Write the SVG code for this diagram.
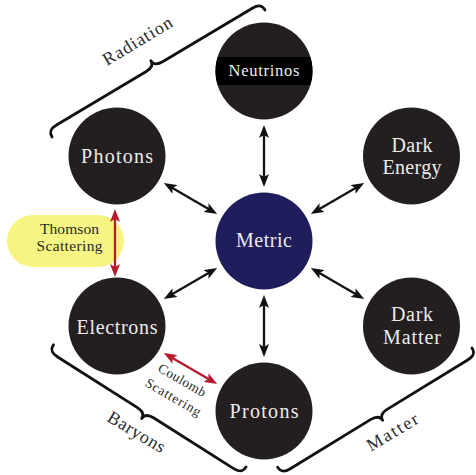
<svg xmlns="http://www.w3.org/2000/svg" width="476" height="475" viewBox="0 0 476 475">
<defs>
<style>
.node{fill:#231f20}
.lbl{font-family:"Liberation Serif","Times New Roman",serif;fill:#ececec;text-anchor:middle}
.out{font-family:"Liberation Serif","Times New Roman",serif;fill:#2a2a2a;text-anchor:middle}
.arr{stroke:#111;stroke-width:2.3;fill:none}
.red{stroke:#b5192c;stroke-width:2.3;fill:none}
.brace{stroke:#111;stroke-width:2.8;fill:none;stroke-linecap:round;stroke-linejoin:round}
</style>
<marker id="ah" viewBox="0 0 13 10" refX="7" refY="5" markerWidth="13" markerHeight="10" markerUnits="userSpaceOnUse" orient="auto-start-reverse">
<path d="M0,0 L13,5 L0,10 L3,5 Z" fill="#111"/>
</marker>
<marker id="rh" viewBox="0 0 13 10" refX="7" refY="5" markerWidth="13" markerHeight="10" markerUnits="userSpaceOnUse" orient="auto-start-reverse">
<path d="M0,0 L13,5 L0,10 L3,5 Z" fill="#b5192c"/>
</marker>
<clipPath id="nclip"><circle cx="264" cy="71" r="48.5"/></clipPath>
</defs>
<rect width="476" height="475" fill="#ffffff"/>

<g id="braces">
<path class="brace" transform="translate(52,137) rotate(-30.8)" d="M0,0 C0,-6 3,-8 10,-8 L114,-8 C120,-8 124,-10 124,-15 C124,-10 128,-8 134,-8 L238,-8 C245,-8 248,-6 248,0"/>
<path class="brace" transform="translate(246,467) rotate(212.4)" d="M0,0 C0,-6 3,-8 10,-8 L104,-8 C110,-8 114,-10 114,-15 C114,-10 118,-8 124,-8 L218,-8 C225,-8 228,-6 228,0"/>
<path class="brace" transform="translate(472,348) rotate(148.5)" d="M0,0 C0,-6 3,-8 10,-8 L104,-8 C110,-8 114,-10 114,-15 C114,-10 118,-8 124,-8 L218,-8 C225,-8 228,-6 228,0"/>
<text class="out" font-size="18" transform="translate(140.5,46) rotate(-31)" textLength="78" lengthAdjust="spacing">Radiation</text>
<text class="out" font-size="18" transform="translate(133.5,437) rotate(31)" textLength="64" lengthAdjust="spacing">Baryons</text>
<text class="out" font-size="18" transform="translate(395.5,437) rotate(-31)" textLength="57" lengthAdjust="spacing">Matter</text>
</g>

<g id="thomson-label">
<rect x="7" y="215" width="117" height="52" rx="26" ry="26" fill="#f6f482"/>
<text class="out" font-size="15.5" x="69.5" y="234" textLength="59" lengthAdjust="spacing">Thomson</text>
<text class="out" font-size="15.5" x="69.5" y="251" textLength="66" lengthAdjust="spacing">Scattering</text>
</g>

<g id="connectors">
<line class="arr" x1="264" y1="181" x2="264" y2="131" marker-start="url(#ah)" marker-end="url(#ah)"/>
<line class="arr" x1="316" y1="211" x2="359" y2="186" marker-start="url(#ah)" marker-end="url(#ah)"/>
<line class="arr" x1="316" y1="271" x2="359" y2="296" marker-start="url(#ah)" marker-end="url(#ah)"/>
<line class="arr" x1="264" y1="301" x2="264" y2="351" marker-start="url(#ah)" marker-end="url(#ah)"/>
<line class="arr" x1="212" y1="271" x2="169" y2="296" marker-start="url(#ah)" marker-end="url(#ah)"/>
<line class="arr" x1="212" y1="211" x2="169" y2="186" marker-start="url(#ah)" marker-end="url(#ah)"/>
<line class="red" x1="115" y1="215" x2="115" y2="271" marker-start="url(#rh)" marker-end="url(#rh)"/>
<line class="red" x1="169" y1="356" x2="212" y2="381" marker-start="url(#rh)" marker-end="url(#rh)"/>
<text class="out" font-size="13.5" fill="#444" transform="translate(180,384) rotate(30)" textLength="53" lengthAdjust="spacing">Coulomb</text>
<text class="out" font-size="13.5" fill="#444" transform="translate(171,401) rotate(30)" textLength="62" lengthAdjust="spacing">Scattering</text>
</g>

<g id="neutrinos">
<circle class="node" cx="264" cy="71" r="48.5"/>
<rect x="210" y="57" width="108" height="28" fill="#000" clip-path="url(#nclip)"/>
<text class="lbl" font-size="16.5" x="264" y="76" textLength="71" lengthAdjust="spacing">Neutrinos</text>
</g>
<g id="photons">
<circle class="node" cx="117" cy="156" r="48.5"/>
<text class="lbl" font-size="20" x="117" y="163" textLength="72" lengthAdjust="spacing">Photons</text>
</g>
<g id="dark-energy">
<circle class="node" cx="411.5" cy="156" r="48.5"/>
<text class="lbl" font-size="20" x="412" y="152" textLength="41" lengthAdjust="spacing">Dark</text>
<text class="lbl" font-size="20" x="412" y="174" textLength="59" lengthAdjust="spacing">Energy</text>
</g>
<g id="metric">
<circle cx="264" cy="241" r="48.5" fill="#201d5c"/>
<text class="lbl" font-size="20" x="264" y="247" textLength="56" lengthAdjust="spacing">Metric</text>
</g>
<g id="electrons">
<circle class="node" cx="117" cy="326" r="48.5"/>
<text class="lbl" font-size="20" x="117" y="334" textLength="81" lengthAdjust="spacing">Electrons</text>
</g>
<g id="dark-matter">
<circle class="node" cx="411.5" cy="326" r="48.5"/>
<text class="lbl" font-size="20" x="412" y="321" textLength="42" lengthAdjust="spacing">Dark</text>
<text class="lbl" font-size="20" x="412" y="344" textLength="58" lengthAdjust="spacing">Matter</text>
</g>
<g id="protons">
<circle class="node" cx="264" cy="411" r="48.5"/>
<text class="lbl" font-size="20" x="264" y="418" textLength="69" lengthAdjust="spacing">Protons</text>
</g>
</svg>
